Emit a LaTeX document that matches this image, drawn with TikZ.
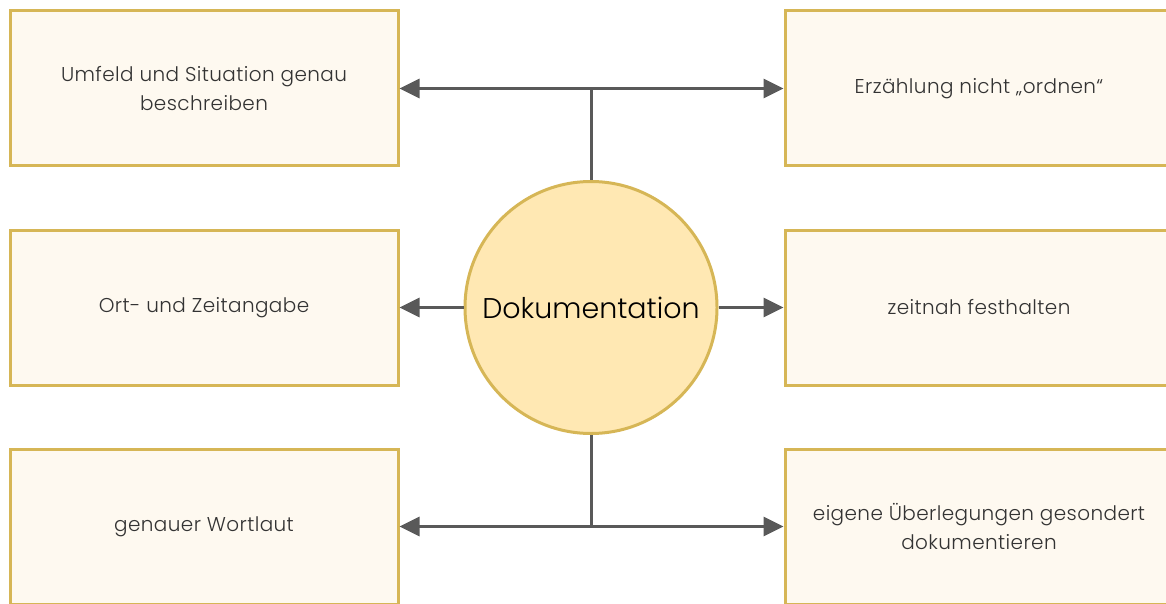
\documentclass[tikz,border=0pt]{standalone}
\usepackage{fontspec}
\IfFontExistsTF{Poppins Light}{\setmainfont{Poppins Light}}{\setmainfont{Poppins}}
\usetikzlibrary{arrows.meta}
\definecolor{boxfill}{HTML}{FEF9F0}
\definecolor{boxdraw}{HTML}{D6B656}
\definecolor{circfill}{HTML}{FFE8B3}
\definecolor{linegray}{HTML}{595959}
\definecolor{txtgray}{HTML}{333333}
\tikzset{
  infobox/.style={draw=boxdraw, fill=boxfill, line width=3pt, minimum width=388pt, minimum height=155pt, align=center, text=txtgray, font=\fontsize{20}{28.5}\selectfont\addfontfeature{LetterSpace=2}, inner sep=0pt},
  centre/.style={circle, draw=boxdraw, fill=circfill, line width=3pt, minimum size=252pt, inner sep=0pt, font=\fontsize{28.5}{32}\selectfont, text=black},
  conn/.style={draw=linegray, line width=3pt},
  arr/.style={conn, -{Triangle[length=20pt,width=19pt]}}
}
\begin{document}
\begin{tikzpicture}[x=1pt,y=-1pt]
\useasboundingbox (0,0) rectangle (1166,604);
\node[infobox] (b1) at (204,88.5) {Umfeld und Situation genau\\beschreiben};
\node[infobox] (b2) at (204,307.5) {Ort- und Zeitangabe};
\node[infobox] (b3) at (204,526.5) {genauer Wortlaut};
\node[infobox] (b4) at (979,88.5) {Erzählung nicht „ordnen“};
\node[infobox] (b5) at (979,307.5) {zeitnah festhalten};
\node[infobox] (b6) at (979,526.5) {eigene Überlegungen gesondert\\dokumentieren};
\node[centre] (c) at (591,307.5) {Dokumentation};
\coordinate (t) at (591,88.5);
\coordinate (u) at (591,526.5);
\draw[conn] (c.north) -- (t);
\draw[arr] (t) -- (b1.east);
\draw[arr] (t) -- (b4.west);
\draw[arr] (c.west) -- (b2.east);
\draw[arr] (c.east) -- (b5.west);
\draw[conn] (c.south) -- (u);
\draw[arr] (u) -- (b3.east);
\draw[arr] (u) -- (b6.west);
\end{tikzpicture}
\end{document}
